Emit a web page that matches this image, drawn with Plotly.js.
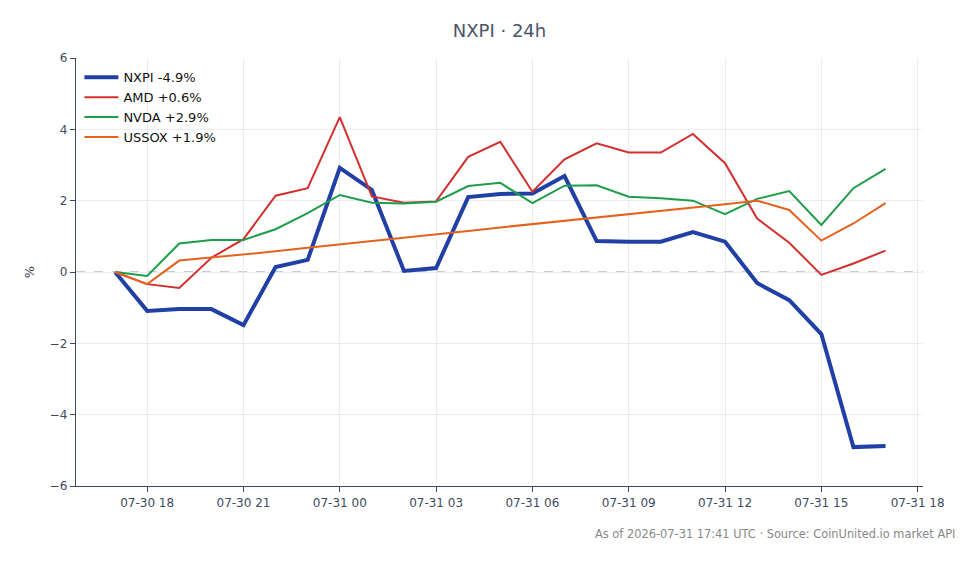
<!DOCTYPE html>
<html>
<head>
<meta charset="utf-8">
<script src="https://cdn.plot.ly/plotly-3.0.1.min.js"></script>
<style>html,body{margin:0;padding:0;background:#fff;}#chart{width:980px;height:564px;}</style>
</head>
<body>
<div id="chart"></div>
<script>
const times = [
  '2026-07-30 17:00','2026-07-30 18:00','2026-07-30 19:00','2026-07-30 20:00','2026-07-30 21:00',
  '2026-07-30 22:00','2026-07-30 23:00','2026-07-31 00:00','2026-07-31 01:00','2026-07-31 02:00',
  '2026-07-31 03:00','2026-07-31 04:00','2026-07-31 05:00','2026-07-31 06:00','2026-07-31 07:00',
  '2026-07-31 08:00','2026-07-31 09:00','2026-07-31 10:00','2026-07-31 11:00','2026-07-31 12:00',
  '2026-07-31 13:00','2026-07-31 14:00','2026-07-31 15:00','2026-07-31 16:00','2026-07-31 17:00'
];
const nxpi  = [0, -1.09, -1.04, -1.04, -1.49, 0.14, 0.34, 2.92, 2.30, 0.03, 0.11, 2.10, 2.19, 2.20, 2.69, 0.87, 0.85, 0.85, 1.12, 0.85, -0.31, -0.79, -1.74, -4.91, -4.88];
const amd   = [0, -0.34, -0.45, 0.40, 0.92, 2.14, 2.35, 4.34, 2.12, 1.94, 1.98, 3.23, 3.65, 2.25, 3.16, 3.61, 3.35, 3.35, 3.87, 3.05, 1.50, 0.82, -0.08, 0.24, 0.60];
const nvda  = [0, -0.11, 0.80, 0.90, 0.90, 1.20, 1.65, 2.16, 1.94, 1.92, 1.97, 2.41, 2.50, 1.93, 2.42, 2.43, 2.11, 2.07, 2.00, 1.62, 2.05, 2.27, 1.32, 2.35, 2.89];
const ussox = [0, -0.34, 0.32, 0.40, 0.49, 0.58, 0.68, 0.77, 0.87, 0.96, 1.05, 1.15, 1.25, 1.34, 1.43, 1.52, 1.62, 1.71, 1.80, 1.90, 2.00, 1.74, 0.88, 1.36, 1.93];
const names = ['NXPI -4.9%', 'AMD +0.6%', 'NVDA +2.9%', 'USSOX +1.9%'];
const colors = ['#2140a6', '#d32f2f', '#1e9e4a', '#e5621c'];
const widths = [4, 2, 2, 2];
const series = [nxpi, amd, nvda, ussox];

const traces = series.map((s, i) => ({
  x: times, y: s, type: 'scatter', mode: 'lines', name: names[i],
  line: {color: colors[i], width: widths[i]}
}));

const font = 'DejaVu Sans, sans-serif';
const layout = {
  width: 980, height: 564,
  margin: {l: 76, r: 57, t: 58, b: 78},
  paper_bgcolor: '#fff', plot_bgcolor: '#fff',
  font: {family: font, size: 12, color: '#4a5568'},
  title: {text: 'NXPI · 24h', x: 0.5, xref: 'paper', y: 0.945, yref: 'container', yanchor: 'middle', font: {family: font, size: 18, color: '#4a5568'}},
  showlegend: true,
  legend: {x: 0.004, y: 0.99, xanchor: 'left', yanchor: 'top', itemwidth: 34, bgcolor: 'rgba(255,255,255,0)', font: {size: 13, color: '#111'}},
  hovermode: false,
  xaxis: {
    type: 'date', range: ['2026-07-30 15:47', '2026-07-31 18:10'],
    dtick: 10800000, tick0: '2026-07-30 18:00', tickformat: '%m-%d %H',
    showgrid: true, gridcolor: '#e9ecf2', zeroline: false,
    showline: true, linecolor: '#3d4a5c', linewidth: 1.3,
    ticks: 'outside', ticklen: 5, tickcolor: '#3d4a5c',
    tickfont: {size: 12, color: '#3d4a5c'}
  },
  yaxis: {
    range: [-6, 6], dtick: 2, title: {text: '%', font: {size: 13, color: '#3d4a5c'}, standoff: 12},
    showgrid: true, gridcolor: '#e9ecf2', zeroline: false,
    showline: true, linecolor: '#3d4a5c', linewidth: 1.3,
    ticks: 'outside', ticklen: 5, tickcolor: '#3d4a5c',
    tickfont: {size: 12, color: '#3d4a5c'}
  },
  shapes: [{type: 'line', xref: 'paper', x0: 0, x1: 1, yref: 'y', y0: 0, y1: 0, line: {color: '#8a97b0', width: 1, dash: 'dash'}, layer: 'below'}],
  annotations: [{text: 'As of 2026-07-31 17:41 UTC · Source: CoinUnited.io market API', xref: 'paper', yref: 'paper', x: 1.04, y: -0.092, xanchor: 'right', yanchor: 'top', showarrow: false, font: {size: 11.4, color: '#888'}}]
};

Plotly.newPlot('chart', traces, layout, {displayModeBar: false, staticPlot: true});
</script>
</body>
</html>
